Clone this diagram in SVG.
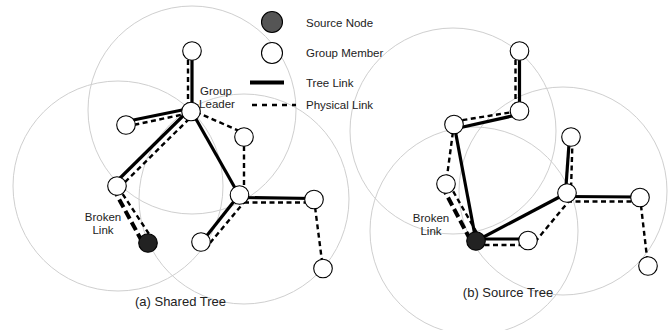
<svg xmlns="http://www.w3.org/2000/svg" width="671" height="330" viewBox="0 0 671 330">
<style>
.range{fill:none;stroke:#cfcfcf;stroke-width:1}
.tree{fill:none;stroke:#000;stroke-width:3.2}
.phys{fill:none;stroke:#000;stroke-width:2.4;stroke-dasharray:5 3.5}
.broken{fill:none;stroke:#000;stroke-width:4;stroke-dasharray:9 4}
.node{fill:#fff;stroke:#000;stroke-width:1.1}
.src{fill:#222;stroke:#000;stroke-width:1.1}
.lsrc{fill:#555;stroke:#000;stroke-width:1.1}
text{font-family:"Liberation Sans",Arial,sans-serif;font-size:11.5px;fill:#222}
.cap{font-size:13px;text-anchor:middle}
.mid{text-anchor:middle}
</style>
<rect width="671" height="330" fill="#fff"/>
<g id="ranges">
<circle class="range" cx="192" cy="110" r="104"/>
<circle class="range" cx="118" cy="186" r="105"/>
<circle class="range" cx="244" cy="199" r="105"/>
<circle class="range" cx="453" cy="131" r="103"/>
<circle class="range" cx="563" cy="191" r="104"/>
<circle class="range" cx="474" cy="231" r="104"/>
</g>
<g id="legend">
<circle class="lsrc" cx="272" cy="22" r="10.5"/>
<circle class="node" cx="272" cy="53" r="10.5"/>
<line class="tree" x1="250" y1="82.5" x2="284" y2="82.5" style="stroke-width:4"/>
<line class="phys" x1="252" y1="105" x2="296" y2="105" style="stroke-dasharray:5 5"/>
<text x="306" y="27">Source Node</text>
<text x="306" y="57">Group Member</text>
<text x="306" y="87">Tree Link</text>
<text x="306" y="109">Physical Link</text>
</g>
<g id="connectors">
<!-- shared tree -->
<line class="tree" x1="192" y1="51" x2="192" y2="112"/>
<line class="phys" x1="188" y1="60" x2="188" y2="108"/>
<line class="tree" x1="126" y1="121.5" x2="192" y2="108"/>
<line class="phys" x1="126" y1="126.5" x2="190" y2="113"/>
<line class="tree" x1="114.5" y1="183.5" x2="189.5" y2="109.5"/>
<line class="phys" x1="119" y1="188" x2="194" y2="114"/>
<line class="phys" x1="196" y1="112" x2="244" y2="133"/>
<line class="phys" x1="244" y1="146" x2="244" y2="190"/>
<line class="tree" x1="192" y1="112" x2="239" y2="195"/>
<line class="broken" x1="113" y1="188" x2="144" y2="245"/>
<line class="phys" x1="118" y1="187" x2="153" y2="240"/>
<line class="tree" x1="239" y1="195" x2="201" y2="243"/>
<line class="phys" x1="246" y1="200" x2="210" y2="243"/>
<line class="tree" x1="239" y1="197.5" x2="314" y2="198.5"/>
<line class="phys" x1="244" y1="202.5" x2="314" y2="202.5"/>
<line class="phys" x1="314" y1="199" x2="323" y2="269"/>
<!-- source tree -->
<line class="tree" x1="519.5" y1="51" x2="519.5" y2="111"/>
<line class="phys" x1="515.5" y1="60" x2="515.5" y2="108"/>
<line class="tree" x1="454" y1="129" x2="519" y2="114.5"/>
<line class="phys" x1="454" y1="121.5" x2="519" y2="111"/>
<line class="tree" x1="454" y1="124" x2="476" y2="241"/>
<line class="phys" x1="454" y1="124" x2="446" y2="184"/>
<line class="broken" x1="442" y1="186" x2="472" y2="243"/>
<line class="phys" x1="449" y1="184" x2="481" y2="240"/>
<line class="tree" x1="476" y1="241" x2="567" y2="193"/>
<line class="tree" x1="476" y1="239" x2="528" y2="239"/>
<line class="phys" x1="476" y1="245" x2="528" y2="245"/>
<line class="phys" x1="535" y1="242" x2="569" y2="201"/>
<line class="tree" x1="569.5" y1="137" x2="565.5" y2="193"/>
<line class="phys" x1="572.5" y1="140" x2="571" y2="190"/>
<line class="tree" x1="567" y1="196.5" x2="640" y2="197"/>
<line class="phys" x1="567" y1="201.5" x2="640" y2="201.5"/>
<line class="phys" x1="640" y1="197" x2="648" y2="266"/>
</g>
<g id="shared-top"><circle class="node" cx="192" cy="51" r="9.3"/></g>
<g id="shared-leader"><circle class="node" cx="191" cy="111.5" r="9.3"/></g>
<g id="shared-a"><circle class="node" cx="126" cy="125" r="9.3"/></g>
<g id="shared-r"><circle class="node" cx="244" cy="137" r="9.3"/></g>
<g id="shared-b"><circle class="node" cx="117" cy="186" r="9.3"/></g>
<g id="shared-source"><circle class="src" cx="148" cy="243" r="9.3"/></g>
<g id="shared-c"><circle class="node" cx="239.5" cy="195" r="9.3"/></g>
<g id="shared-d"><circle class="node" cx="201" cy="242" r="9.3"/></g>
<g id="shared-e"><circle class="node" cx="314" cy="199.5" r="9.3"/></g>
<g id="shared-f"><circle class="node" cx="323" cy="268.5" r="9.3"/></g>
<g id="source-top"><circle class="node" cx="519.5" cy="51" r="9.3"/></g>
<g id="source-m"><circle class="node" cx="519.5" cy="111" r="9.3"/></g>
<g id="source-p"><circle class="node" cx="454" cy="124.5" r="9.3"/></g>
<g id="source-q"><circle class="node" cx="571" cy="137" r="9.3"/></g>
<g id="source-p2"><circle class="node" cx="446" cy="184" r="9.3"/></g>
<g id="source-source"><circle class="src" cx="476" cy="241" r="9.3"/></g>
<g id="source-g"><circle class="node" cx="567" cy="193" r="9.3"/></g>
<g id="source-h"><circle class="node" cx="528" cy="240.5" r="9.3"/></g>
<g id="source-i"><circle class="node" cx="640" cy="197.5" r="9.3"/></g>
<g id="source-j"><circle class="node" cx="648" cy="266" r="9.3"/></g>
<g id="labels">
<text class="mid" x="216" y="95">Group</text>
<text class="mid" x="217" y="108">Leader</text>
<text class="mid" x="103" y="221">Broken</text>
<text class="mid" x="103" y="234">Link</text>
<text class="mid" x="431" y="222">Broken</text>
<text class="mid" x="431" y="235">Link</text>
<text class="cap" x="180.5" y="306">(a) Shared Tree</text>
<text class="cap" x="508" y="297">(b) Source Tree</text>
</g>
</svg>
